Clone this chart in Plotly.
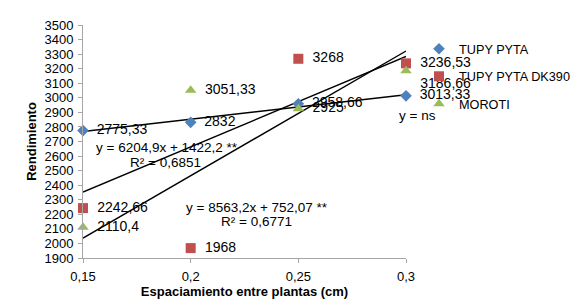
import numpy as np
import plotly.graph_objects as go

espaciamiento = [0.15, 0.20, 0.25, 0.30]
tupy_pyta = [2775.33, 2832, 2958.66, 3013.33]
tupy_dk390 = [2242.66, 1968, 3268, 3236.53]
moroti = [2110.4, 3051.33, 2925, 3186.66]

lab_tupy = ["2775,33", "2832", "2958,66", "3013,33"]
lab_dk390 = ["2242,66", "1968", "3268", "3236,53"]
lab_moroti = ["2110,4", "3051,33", "2925", "3186,66"]

y_ticks = list(range(1900, 3501, 100))
x_ticks = [0.15, 0.2, 0.25, 0.3]

FONT = "Liberation Sans, Arial, sans-serif"
BLUE = "#4F81BD"
RED = "#C0504D"
GREEN = "#9BBB59"

# page body has an 8px margin: the figure is drawn 8px right/down
OFF = 8
W, H = 579 - OFF, 302 - OFF
# plot area in screen pixels
L, R, T, B = 83, 406, 25, 258
ml, mt = L - OFF, T - OFF
mr = W - ml - (R - L)
mb = H - mt - (B - T)

fig = go.Figure()

series = [
    ("TUPY PYTA", tupy_pyta, lab_tupy, BLUE, "diamond", 9,
     ["middle right"] * 4),
    ("TUPY PYTA DK390", tupy_dk390, lab_dk390, RED, "square", 10,
     ["middle right"] * 4),
    ("MOROTI", moroti, lab_moroti, GREEN, "triangle-up", 10,
     ["middle right", "middle right", "middle right", "bottom right"]),
]

xs = np.array(espaciamiento)
for name, ys, _, _, _, _, _ in series:
    m, b = np.polyfit(xs, np.array(ys), 1)
    xl = [min(espaciamiento), max(espaciamiento)]
    fig.add_trace(go.Scatter(
        x=xl, y=[m * v + b for v in xl], mode="lines",
        line=dict(color="black", width=1.4), showlegend=False,
        hoverinfo="skip", cliponaxis=False))

for i, (name, ys, labs, col, sym, sz, tp) in enumerate(series):
    fig.add_trace(go.Scatter(
        x=espaciamiento, y=ys, mode="markers+text", name=name,
        text=["\u2002" + t for t in labs], textposition=tp,
        textfont=dict(family=FONT, size=14, color="black"),
        marker=dict(symbol=sym, size=sz, color=col, line=dict(width=0)),
        cliponaxis=False, legendgroup=f"g{i}"))

ann_font = dict(family=FONT, size=13.5, color="black")
annotations = [
    dict(x=167, y=147, text="y = 6204,9x + 1422,2 **"),
    dict(x=165, y=162, text="R² = 0,6851"),
    dict(x=257, y=207, text="y = 8563,2x + 752,07 **"),
    dict(x=256, y=221, text="R² = 0,6771"),
    dict(x=417, y=115, text="y = ns"),
]
for a in annotations:
    fig.add_annotation(
        x=(a["x"] - L) / (R - L), y=1 - (a["y"] - T) / (B - T),
        xref="paper", yref="paper", text=a["text"], showarrow=False,
        font=ann_font, xanchor="center", yanchor="middle")

axis_common = dict(
    showgrid=False, zeroline=False, showline=True, linecolor="#A6A6A6",
    linewidth=1, ticks="outside", ticklen=4, tickcolor="#A6A6A6",
    tickfont=dict(family=FONT, size=13, color="black"),
    automargin=False,
)

legend_left = 419 - OFF
legend_top = 34 - OFF

fig.update_layout(
    width=W, height=H,
    margin=dict(l=ml, r=mr, t=mt, b=mb),
    paper_bgcolor="white", plot_bgcolor="white",
    separators=", ",
    xaxis=dict(range=[0.15, 0.3], tickvals=x_ticks, ticklabelstandoff=2,
               title=dict(text="<b>Espaciamiento entre plantas (cm)</b>",
                          font=dict(family=FONT, size=13, color="black"),
                          standoff=1),
               **axis_common),
    yaxis=dict(range=[1900, 3500], tickvals=y_ticks, ticklabelstandoff=2,
               title=dict(text="<b>Rendimiento</b>",
                          font=dict(family=FONT, size=13, color="black"),
                          standoff=4),
               **axis_common),
    legend=dict(xref="container", yref="container",
                x=legend_left / W, y=1 - legend_top / H,
                xanchor="left", yanchor="top",
                font=dict(family=FONT, size=12.7, color="black"),
                bgcolor="rgba(0,0,0,0)", tracegroupgap=8,
                itemwidth=30),
    showlegend=True,
)

fig.write_html("out.html")
